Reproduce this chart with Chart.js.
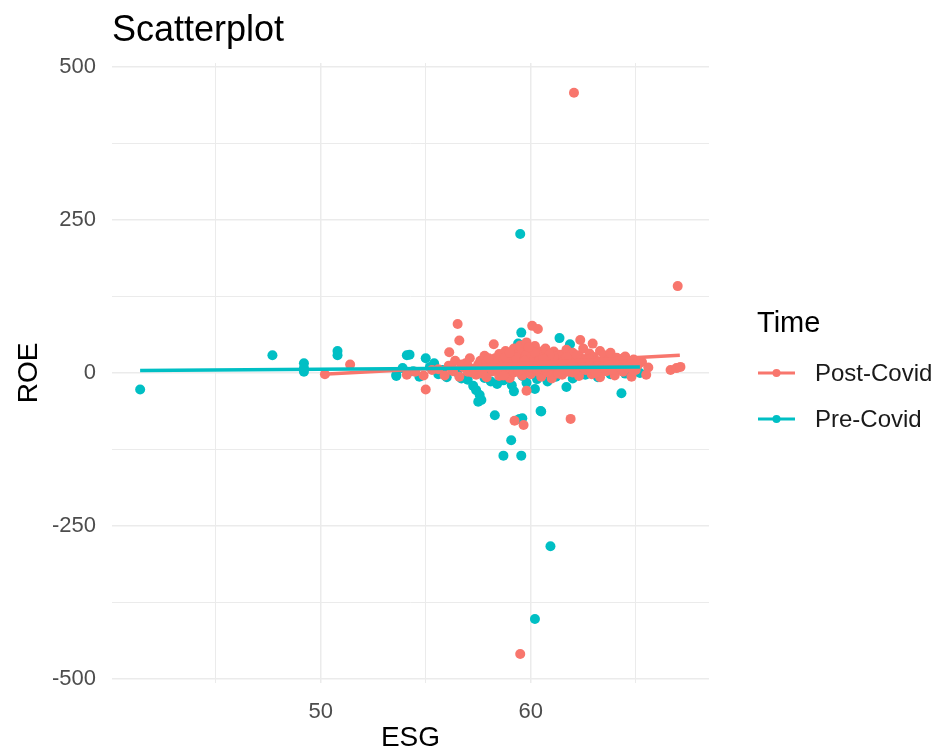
<!DOCTYPE html>
<html>
<head>
<meta charset="utf-8">
<script src="https://cdn.jsdelivr.net/npm/chart.js@4"></script>
<style>
  body { margin: 0; background: #fff; }
  #wrap { width: 939px; height: 756px; }
</style>
</head>
<body>
<div id="wrap"><canvas id="scatter" width="939" height="756"></canvas></div>
<script>
// Post-Covid observations (ESG score, ROE)
const postEsg = [
  62.06, 67.0, 59.5, 56.52, 56.6, 56.12, 58.24, 60.07, 60.34, 62.36, 62.95,
  55.0, 59.8, 59.23, 59.66, 61.9, 66.66, 66.94, 67.13, 50.2, 51.4, 54.1,
  54.5, 54.9, 55.3,
  55.6, 55.9, 56.1, 56.3, 56.4, 56.6, 56.8, 56.9, 57.0, 57.1, 57.3, 57.4,
  57.5, 57.6, 57.7, 57.8, 57.9, 58.0, 58.1, 58.2, 58.3, 58.4, 58.5, 58.5,
  58.6, 58.7, 58.8, 58.8, 58.9, 59.0, 59.0, 59.1, 59.2, 59.2, 59.3, 59.3,
  59.4, 59.4, 59.5, 59.5, 59.6, 59.6, 59.7, 59.7, 59.8, 59.8, 59.9, 59.9,
  60.0, 60.0, 60.1, 60.1, 60.2, 60.2, 60.3, 60.3, 60.4, 60.4, 60.5, 60.5,
  60.6, 60.6, 60.7, 60.7, 60.8, 60.9, 60.9, 61.0, 61.0, 61.1, 61.1, 61.2,
  61.3, 61.3, 61.4, 61.5, 61.5, 61.6, 61.7, 61.8, 61.8, 61.9, 62.0, 62.0,
  62.1, 62.2, 62.3, 62.3, 62.4, 62.5, 62.6, 62.6, 62.7, 62.8, 62.9, 62.9,
  63.0, 63.1, 63.2, 63.3, 63.3, 63.4, 63.5, 63.6, 63.7, 63.8, 63.8, 63.9,
  64.0, 64.1, 64.2, 64.3, 64.4, 64.5, 64.6, 64.7, 64.8, 64.9, 65.0, 65.1,
  65.3, 65.5, 65.6,
  56.2, 56.7, 57.2, 57.5, 57.9, 58.1, 58.3, 58.6, 58.9, 59.1, 59.3, 59.5,
  59.6, 59.8, 60.0, 60.1, 60.3, 60.5, 60.6, 60.8, 61.0, 61.2, 61.4, 61.6,
  61.7, 61.9, 62.1, 62.3, 62.5, 62.7, 62.8, 63.0, 63.2, 63.4, 63.6, 63.9,
  64.1, 64.3, 64.6, 64.9, 57.0, 57.7, 58.4, 58.8, 59.2, 59.7, 60.2, 60.7,
  61.1, 61.5, 62.0, 62.4, 62.9, 63.5, 64.0, 64.4, 59.0, 59.9, 60.4, 60.9,
  61.3, 61.8, 62.2, 62.6, 63.1, 63.7, 58.0, 58.7, 59.4, 60.6, 61.6, 62.8
];
const postRoe = [
  458, 142, -459, 80, 53, 34, 47, 77, 72, 54, 48,
  -27, -29, -78, -85, -75, 5, 8, 10, -2, 14, -3,
  2, -4, 5,
  6, -4, 12, 3, 20, -6, 9, 16, 2, 24, 7, -3,
  14, 20, 5, 28, -7, 11, 18, 3, 24, 9, 31, -5,
  15, 22, 4, 36, 12, 27, -8, 18, 6, 40, 14, 30,
  2, 22, 45, 10, -4, 34, 17, 25, 7, 50, 13, 38,
  -2, 21, 29, 8, 44, 15, 3, 26, 35, 11, 19, -6,
  31, 6, 23, 40, 14, 2, 28, 18, -9, 35, 9, 24,
  4, 15, 30, -3, 20, 11, 38, 6, 26, 16, 1, 33,
  21, 9, 28, -5, 14, 40, 5, 23, 17, 32, -2, 10,
  26, 6, 19, 36, -7, 13, 29, 3, 21, 9, 33, 16,
  -4, 25, 11, 19, 2, 27, 8, 15, -6, 22, 5, 13,
  18, -3, 9,
  8, 14, 1, 10, 18, 7, 14, 2, 20, 10, 25, 4,
  15, 30, 10, 19, 6, 13, 22, 1, 12, 18, 7, 14,
  26, 10, 4, 19, 9, 13, 22, 3, 11, 8, 17, 5,
  14, 7, 10, 4, 12, -1, 8, 26, 1, 20, 33, 9,
  27, 17, 12, 22, 6, 10, 18, 24, 33, 42, 20, 30,
  -1, 2, 29, 12, 0, 15, 24, -4, 3, 23, 6, 23
];

// Pre-Covid observations (ESG score, ROE)
const preEsg = [
  41.4, 47.7, 49.2, 49.2, 49.2, 50.8, 50.8, 53.6, 54.1, 59.07, 58.7, 59.55,
  59.6, 60.5, 59.5, 60.94, 60.2,
  53.6, 53.9, 54.23, 54.4, 54.7, 55.0, 55.2, 55.4, 55.6, 55.8, 56.0, 56.2,
  56.5, 56.7, 57.0, 57.1, 57.26, 57.4, 57.5, 57.57, 57.65, 57.8, 58.0, 58.1,
  58.29, 58.4, 58.5, 58.7, 58.9, 59.1, 59.2, 59.4, 59.5, 59.55, 59.47, 59.6,
  59.8, 60.0, 60.2, 60.3, 60.47, 60.6, 60.8, 61.0, 61.2, 61.37, 61.5, 61.7,
  61.87, 62.0, 62.3, 62.6, 62.9, 63.2, 63.5, 63.8, 64.0, 64.1, 64.32, 64.5,
  64.8, 65.2
];
const preRoe = [
  -27, 29, 16, 8, 2, 36, 29, -3, 29, -110, -135, -135,
  -74, -63, 227, -283, -402,
  -5, 8, 30, 3, -6, 24, 10, 16, -2, 5, -7, 12,
  1, -9, -11, 4, -21, -28, -47, -36, -44, -8, 2, -14,
  -69, -18, 6, -12, 1, -20, -30, 48, 38, 66, -75, -5,
  -16, 4, -26, -10, -62, 2, -14, 7, -6, 57, 3, -23,
  47, -9, 5, -3, 12, -7, 4, -2, 2, 9, -33, -1,
  6, 0
];

// Linear fits per period (endpoints over each group's ESG range)
const postFitEsg = [50.1, 67.1];
const postFitRoe = [-2, 29];
const preFitEsg = [41.4, 65.2];
const preFitRoe = [4, 10];

// Axis setup
const yTicks = [-500, -375, -250, -125, 0, 125, 250, 375, 500];
const yTickLabels = [-500, -250, 0, 250, 500];
const xTicks = [45, 50, 55, 60, 65];
const xTickLabels = [50, 60];

const legendTitle = "Time";
const seriesNames = ["Post-Covid", "Pre-Covid"];
const seriesColors = ["#F8766D", "#00BFC4"];

const toPoints = (xs, ys) => xs.map((x, i) => ({ x: x, y: ys[i] }));

const FONT = "'Liberation Sans', Arial, sans-serif";

// Title, axis titles and legend drawn straight onto the canvas
const decorations = {
  id: "decorations",
  afterDraw(chart) {
    const { ctx, chartArea } = chart;
    ctx.save();
    ctx.fillStyle = "#000";
    ctx.textAlign = "left";
    ctx.textBaseline = "alphabetic";
    ctx.font = "36px " + FONT;
    ctx.fillText("Scatterplot", chartArea.left, 41);

    ctx.font = "28px " + FONT;
    ctx.textAlign = "center";
    ctx.textBaseline = "middle";
    ctx.fillText("ESG", (chartArea.left + chartArea.right) / 2, 738);

    ctx.save();
    ctx.translate(29, (chartArea.top + chartArea.bottom) / 2);
    ctx.rotate(-Math.PI / 2);
    ctx.fillText("ROE", 0, 0);
    ctx.restore();

    // legend
    ctx.textAlign = "left";
    ctx.textBaseline = "alphabetic";
    ctx.font = "29px " + FONT;
    ctx.fillText(legendTitle, 757, 332);
    ctx.font = "24px " + FONT;
    ctx.textBaseline = "middle";
    seriesNames.forEach((name, i) => {
      const y = 373 + i * 46;
      ctx.strokeStyle = seriesColors[i];
      ctx.lineWidth = 3;
      ctx.beginPath();
      ctx.moveTo(758, y);
      ctx.lineTo(795, y);
      ctx.stroke();
      ctx.fillStyle = seriesColors[i];
      ctx.beginPath();
      ctx.arc(776.5, y, 4, 0, Math.PI * 2);
      ctx.fill();
      ctx.fillStyle = "#1a1a1a";
      ctx.fillText(name, 815, y + 1);
    });
    ctx.restore();
  },
};

new Chart(document.getElementById("scatter"), {
  type: "scatter",
  data: {
    datasets: [
      {
        type: "line",
        label: seriesNames[1] + " fit",
        data: toPoints(preFitEsg, preFitRoe),
        borderColor: seriesColors[1],
        borderWidth: 3.5,
        pointRadius: 0,
        fill: false,
        order: 0,
      },
      {
        type: "line",
        label: seriesNames[0] + " fit",
        data: toPoints(postFitEsg, postFitRoe),
        borderColor: seriesColors[0],
        borderWidth: 3.5,
        pointRadius: 0,
        fill: false,
        order: 1,
      },
      {
        label: seriesNames[0],
        data: toPoints(postEsg, postRoe),
        backgroundColor: seriesColors[0],
        borderWidth: 0,
        pointRadius: 5,
        order: 2,
      },
      {
        label: seriesNames[1],
        data: toPoints(preEsg, preRoe),
        backgroundColor: seriesColors[1],
        borderWidth: 0,
        pointRadius: 5,
        order: 3,
      },
    ],
  },
  options: {
    responsive: false,
    animation: false,
    layout: { padding: { left: 0, top: 63, right: 230, bottom: 0 } },
    plugins: {
      legend: { display: false },
      tooltip: { enabled: false },
      title: { display: false },
    },
    scales: {
      x: {
        type: "linear",
        min: 40.06,
        max: 68.49,
        border: { display: false },
        afterFit: (scale) => { scale.height = 73; },
        afterBuildTicks: (scale) => { scale.ticks = xTicks.map((v) => ({ value: v })); },
        grid: {
          drawTicks: false,
          color: "#ebebeb",
          lineWidth: (c) => (xTickLabels.includes(c.tick && c.tick.value) ? 1.5 : 1),
        },
        ticks: {
          padding: 16,
          color: "#4d4d4d",
          font: { family: FONT, size: 22 },
          maxRotation: 0,
          autoSkip: false,
          callback: (v) => (xTickLabels.includes(v) ? String(v) : ""),
        },
      },
      y: {
        type: "linear",
        min: -506.5,
        max: 506.5,
        border: { display: false },
        afterFit: (scale) => { scale.width = 112; },
        afterBuildTicks: (scale) => { scale.ticks = yTicks.map((v) => ({ value: v })); },
        grid: {
          drawTicks: false,
          color: "#ebebeb",
          lineWidth: (c) => (yTickLabels.includes(c.tick && c.tick.value) ? 1.5 : 1),
        },
        ticks: {
          padding: 16,
          color: "#4d4d4d",
          font: { family: FONT, size: 22 },
          autoSkip: false,
          callback: (v) => (yTickLabels.includes(v) ? String(v) : ""),
        },
      },
    },
  },
  plugins: [decorations],
});
</script>
</body>
</html>
